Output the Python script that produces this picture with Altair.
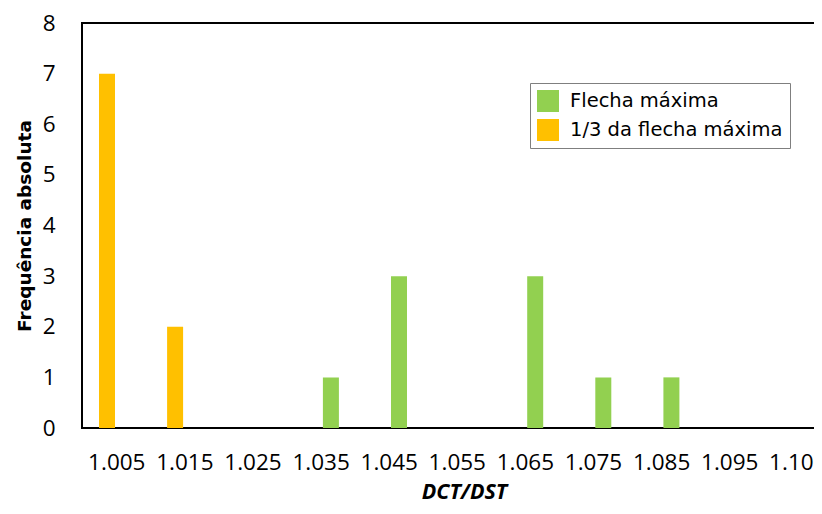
import altair as alt
import pandas as pd

categories = ["1.005", "1.015", "1.025", "1.035", "1.045", "1.055",
              "1.065", "1.075", "1.085", "1.095", "1.105"]
flecha_maxima = [0, 0, 0, 1, 3, 0, 3, 1, 1, 0, 0]
um_terco = [7, 2, 0, 0, 0, 0, 0, 0, 0, 0, 0]

S1 = "Flecha máxima"
S2 = "1/3 da flecha máxima"
GREEN = "#92d050"
ORANGE = "#ffc000"

rows = []
for c, a, b in zip(categories, flecha_maxima, um_terco):
    if a:
        rows.append({"dct": c, "serie": S1, "freq": a})
    if b:
        rows.append({"dct": c, "serie": S2, "freq": b})
df = pd.DataFrame(rows)

chart = alt.Chart(df).mark_bar().encode(
    x=alt.X("dct:N", sort=categories,
            scale=alt.Scale(domain=categories, paddingInner=0.4126,
                            paddingOuter=0.1395, align=0.779),
            axis=alt.Axis(title="DCT/DST", labelAngle=0, ticks=False, domain=False,
                          grid=False, labelPadding=23, labelFont="Open Sans",
                          labelFontSize=22.5, labelColor="black", labelOverlap=False,
                          titleFont="Open Sans", titleFontStyle="italic",
                          titleFontWeight="bold", titleFontSize=21.5, titleColor="black",
                          titleY=53, titleX=382, titleBaseline="top")),
    xOffset=alt.XOffset("serie:N",
                        scale=alt.Scale(domain=[S2, S1], paddingInner=0.1837,
                                        paddingOuter=0.1122)),
    y=alt.Y("freq:Q", scale=alt.Scale(domain=[0, 8]),
            axis=alt.Axis(title="Frequência absoluta", values=list(range(9)),
                          ticks=False, domain=False, grid=False, labelPadding=27,
                          labelFont="Open Sans", labelFontSize=22.5, labelColor="black",
                          titleFont="DejaVu Sans", titleFontWeight="bold",
                          titleFontSize=18.5, titleColor="black", titleX=-58,
                          titleBaseline="middle")),
    color=alt.Color("serie:N",
                    scale=alt.Scale(domain=[S1, S2], range=[GREEN, ORANGE]),
                    legend=alt.Legend(title=None, orient="none", legendX=448, legendY=60,
                                      symbolType="square", symbolSize=484,
                                      symbolStrokeWidth=0, labelFont="DejaVu Sans",
                                      labelFontSize=19.5, labelColor="black",
                                      labelLimit=400, labelOffset=11, rowPadding=7,
                                      padding=7, fillColor="white",
                                      strokeColor="#7f7f7f")),
).properties(
    width=740, height=405,
    autosize=alt.AutoSizeParams(type="none"),
    padding={"left": 74, "top": 15, "right": -8, "bottom": 73},
).configure_view(
    stroke="black", strokeWidth=2
)

chart.save("out.html", embed_options={"renderer": "svg", "actions": False})
